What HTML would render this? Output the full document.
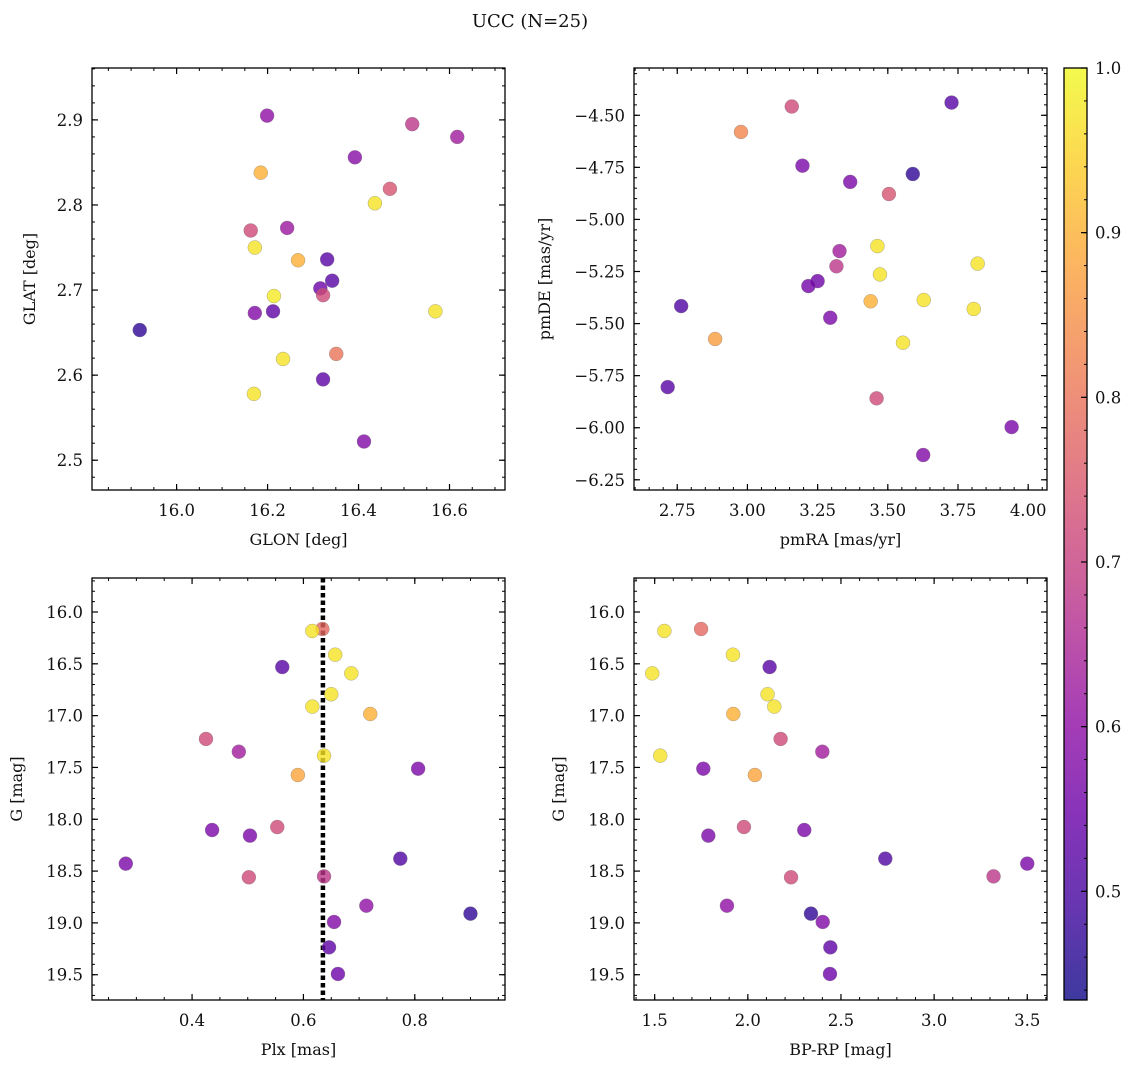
<!DOCTYPE html>
<html><head><meta charset="utf-8"><style>
html,body{margin:0;padding:0;background:#fff}
svg text{font-family:"DejaVu Serif","Liberation Serif",serif;fill:#111}
</style></head><body>
<svg id="fig" width="1136" height="1067" viewBox="0 0 1136 1067" xmlns="http://www.w3.org/2000/svg">
<text x="530" y="27" font-size="18" text-anchor="middle">UCC (N=25)</text>
<defs><linearGradient id="cbgrad" x1="0" y1="1" x2="0" y2="0"></linearGradient></defs>
</svg>
<script>
// Panel 1: GLON vs GLAT
const glonVals=[16.199,16.518,16.617,16.392,16.185,16.469,16.436,16.163,16.243,16.172,16.267,16.331,16.342,16.316,16.322,16.214,15.919,16.172,16.212,16.569,16.234,16.351,16.322,16.170,16.412];
const glatVals=[2.905,2.895,2.880,2.856,2.838,2.819,2.802,2.770,2.773,2.750,2.735,2.736,2.711,2.702,2.694,2.693,2.653,2.673,2.675,2.675,2.619,2.625,2.595,2.578,2.522];
const probP1=[0.60,0.68,0.63,0.59,0.90,0.74,0.97,0.72,0.62,0.97,0.90,0.52,0.52,0.55,0.72,0.98,0.47,0.58,0.53,0.97,0.97,0.80,0.53,0.97,0.58];
// Panel 2: pmRA vs pmDE
const pmraVals=[3.727,3.158,2.977,3.196,3.366,3.589,3.504,3.463,3.328,3.317,3.472,3.820,3.250,3.217,3.439,3.628,3.806,2.764,3.295,2.885,3.554,2.716,3.460,3.941,3.626];
const pmdeVals=[-4.439,-4.458,-4.580,-4.742,-4.820,-4.782,-4.878,-5.128,-5.152,-5.225,-5.264,-5.212,-5.296,-5.320,-5.393,-5.387,-5.430,-5.416,-5.472,-5.574,-5.592,-5.805,-5.859,-5.997,-6.131];
const probP2=[0.52,0.72,0.83,0.57,0.57,0.47,0.74,0.97,0.63,0.68,0.97,0.97,0.55,0.56,0.90,0.97,0.97,0.51,0.57,0.87,0.97,0.52,0.72,0.57,0.58];
// Panel 3: Plx vs G
const plxVals=[0.634,0.616,0.657,0.562,0.686,0.650,0.616,0.720,0.425,0.484,0.637,0.806,0.590,0.553,0.436,0.504,0.281,0.774,0.502,0.637,0.713,0.900,0.655,0.646,0.662];
const gVals3=[16.164,16.183,16.412,16.531,16.592,16.794,16.913,16.984,17.225,17.348,17.386,17.512,17.573,18.075,18.104,18.158,18.428,18.380,18.560,18.551,18.834,18.911,18.991,19.236,19.493];
const probP3=[0.78,0.97,0.97,0.52,0.97,0.97,0.97,0.90,0.72,0.63,0.97,0.57,0.88,0.72,0.57,0.57,0.57,0.51,0.72,0.68,0.60,0.47,0.58,0.53,0.55];
const plxMedian=0.635;
// Panel 4: BP-RP vs G
const bprpVals=[1.749,1.552,1.920,2.117,1.487,2.106,2.142,1.922,2.176,2.400,1.530,1.761,2.038,1.979,2.303,1.788,3.500,2.738,2.232,3.319,1.888,2.339,2.402,2.443,2.441];
const gVals4=[16.164,16.183,16.412,16.531,16.592,16.794,16.913,16.984,17.225,17.348,17.386,17.512,17.573,18.075,18.104,18.158,18.428,18.380,18.560,18.551,18.834,18.911,18.991,19.236,19.493];
const probP4=[0.78,0.97,0.97,0.52,0.97,0.97,0.97,0.90,0.72,0.63,0.97,0.57,0.88,0.72,0.57,0.57,0.57,0.51,0.72,0.68,0.60,0.47,0.58,0.53,0.55];
const cbTicks=[0.5,0.6,0.7,0.8,0.9,1.0];

const NS="http://www.w3.org/2000/svg";
const svg=document.getElementById('fig');
const VMIN=0.434,VMAX=1.0;
const plasma=[[13,8,135],[65,4,157],[106,0,168],[143,13,164],[177,42,144],[204,71,120],[225,100,98],[242,132,75],[252,166,54],[252,206,37],[240,249,33]];
function cmap(v){let t=(v-VMIN)/(VMAX-VMIN);t=Math.max(0,Math.min(1,t));const f=t*10,i=Math.min(9,Math.floor(f)),r=f-i;
 const a=plasma[i],b=plasma[i+1];const c=[0,1,2].map(k=>Math.round(a[k]+(b[k]-a[k])*r));return `rgb(${c[0]},${c[1]},${c[2]})`;}
function el(tag,attrs,parent){const e=document.createElementNS(NS,tag);for(const k in attrs)e.setAttribute(k,attrs[k]);(parent||svg).appendChild(e);return e;}
function fmt(v,d){return v.toFixed(d).replace('-','\u2212');}
const FS=16.5;

function panel(o){
 const {x0,x1,y0,y1,xmin,xmax,ymin,ymax,inv}=o;
 const sx=v=>x0+(v-xmin)/(xmax-xmin)*(x1-x0);
 const sy=inv?(v=>y0+(v-ymin)/(ymax-ymin)*(y1-y0)):(v=>y1-(v-ymin)/(ymax-ymin)*(y1-y0));
 const g=el('g',{});
 
 
 for(let v=Math.ceil(xmin/o.xminor)*o.xminor;v<=xmax;v+=o.xminor){const X=sx(v);
  el('line',{x1:X,x2:X,y1:y1,y2:y1-3,stroke:'#000','stroke-width':1},g);el('line',{x1:X,x2:X,y1:y0,y2:y0+3,stroke:'#000','stroke-width':1},g);}
 for(let v=Math.ceil(ymin/o.yminor)*o.yminor;v<=ymax;v+=o.yminor){const Y=sy(v);
  el('line',{x1:x0,x2:x0+3,y1:Y,y2:Y,stroke:'#000','stroke-width':1},g);el('line',{x1:x1,x2:x1-3,y1:Y,y2:Y,stroke:'#000','stroke-width':1},g);}
 o.xticks.forEach(v=>{const X=sx(v);
  el('line',{x1:X,x2:X,y1:y1,y2:y1-6,stroke:'#000','stroke-width':1.2},g);el('line',{x1:X,x2:X,y1:y0,y2:y0+6,stroke:'#000','stroke-width':1.2},g);
  const t=el('text',{x:X,y:y1+26,'font-size':FS,'text-anchor':'middle'},g);t.textContent=fmt(v,o.xd);
  
  });
 o.yticks.forEach(v=>{const Y=sy(v);
  el('line',{x1:x0,x2:x0+6,y1:Y,y2:Y,stroke:'#000','stroke-width':1.2},g);el('line',{x1:x1,x2:x1-6,y1:Y,y2:Y,stroke:'#000','stroke-width':1.2},g);
  const t=el('text',{x:x0-9,y:Y+6,'font-size':FS,'text-anchor':'end'},g);t.textContent=fmt(v,o.yd);
  
  });
 const xl=el('text',{x:(x0+x1)/2,y:y1+55,'font-size':16,'text-anchor':'middle'},g);xl.textContent=o.xlabel;
 
 
 const yl=el('text',{x:0,y:0,'font-size':16,'text-anchor':'middle',transform:`translate(${o.ylx},${(y0+y1)/2}) rotate(-90)`},g);yl.textContent=o.ylabel;
 
 
 if(o.vline!==undefined){const ln=el('line',{x1:sx(o.vline),x2:sx(o.vline),y1:y0,y2:y1,stroke:'#000','stroke-width':4.5,'stroke-dasharray':'4.5,3'},g);
  
  }
 o.xs.forEach((xv,i)=>{const c=el('circle',{cx:sx(xv),cy:sy(o.ys[i]),r:7,fill:cmap(o.p[i]),'fill-opacity':0.8,stroke:'#777','stroke-opacity':0.6,'stroke-width':0.5},g);
  
  });
 el('rect',{x:x0,y:y0,width:x1-x0,height:y1-y0,fill:'none',stroke:'#000','stroke-width':1.3},g);
}
panel({name:'glon-glat-panel',x0:92,x1:505,y0:68,y1:490,xmin:15.814,xmax:16.722,ymin:2.465,ymax:2.961,xticks:[16.0,16.2,16.4,16.6],yticks:[2.5,2.6,2.7,2.8,2.9],xminor:0.05,yminor:0.02,xd:1,yd:1,xlabel:'GLON [deg]',ylabel:'GLAT [deg]',ylx:35,xs:glonVals,ys:glatVals,p:probP1});
panel({name:'pm-panel',x0:634,x1:1047,y0:68,y1:490,xmin:2.596,xmax:4.067,ymin:-6.299,ymax:-4.273,xticks:[2.75,3.0,3.25,3.5,3.75,4.0],yticks:[-6.25,-6.0,-5.75,-5.5,-5.25,-5.0,-4.75,-4.5],xminor:0.05,yminor:0.05,xd:2,yd:2,xlabel:'pmRA [mas/yr]',ylabel:'pmDE [mas/yr]',ylx:550,xs:pmraVals,ys:pmdeVals,p:probP2});
panel({name:'plx-g-panel',x0:92,x1:505,y0:578,y1:1000,xmin:0.2203,xmax:0.962,ymin:15.672,ymax:19.744,inv:true,xticks:[0.4,0.6,0.8],yticks:[16.0,16.5,17.0,17.5,18.0,18.5,19.0,19.5],xminor:0.05,yminor:0.1,xd:1,yd:1,xlabel:'Plx [mas]',ylabel:'G [mag]',ylx:22,xs:plxVals,ys:gVals3,p:probP3,vline:plxMedian});
panel({name:'cmd-panel',x0:634,x1:1047,y0:578,y1:1000,xmin:1.389,xmax:3.606,ymin:15.672,ymax:19.744,inv:true,xticks:[1.5,2.0,2.5,3.0,3.5],yticks:[16.0,16.5,17.0,17.5,18.0,18.5,19.0,19.5],xminor:0.1,yminor:0.1,xd:1,yd:1,xlabel:'BP-RP [mag]',ylabel:'G [mag]',ylx:564,xs:bprpVals,ys:gVals4,p:probP4});

// colorbar
const grad=document.getElementById('cbgrad');
for(let i=0;i<=20;i++){const v=VMIN+(VMAX-VMIN)*i/20;el('stop',{offset:(i/20),'stop-color':cmap(v),'stop-opacity':0.8},grad);}
const cb=el('g',{});


const cx0=1064,cx1=1087,cy0=68,cy1=1000;
const cy=v=>cy1-(v-VMIN)/(VMAX-VMIN)*(cy1-cy0);
el('rect',{x:cx0,y:cy0,width:cx1-cx0,height:cy1-cy0,fill:'url(#cbgrad)'},cb);
for(let v=0.44;v<=1.0001;v+=0.02){el('line',{x1:cx1,x2:cx1-3,y1:cy(v),y2:cy(v),stroke:'#000','stroke-width':1},cb);}
cbTicks.forEach(v=>{el('line',{x1:cx1,x2:cx1-6,y1:cy(v),y2:cy(v),stroke:'#000','stroke-width':1.2},cb);
 const t=el('text',{x:cx1+8,y:cy(v)+6,'font-size':FS},cb);t.textContent=v.toFixed(1);
 
 });
el('rect',{x:cx0,y:cy0,width:cx1-cx0,height:cy1-cy0,fill:'none',stroke:'#000','stroke-width':1.3},cb);
</script>
</body></html>
